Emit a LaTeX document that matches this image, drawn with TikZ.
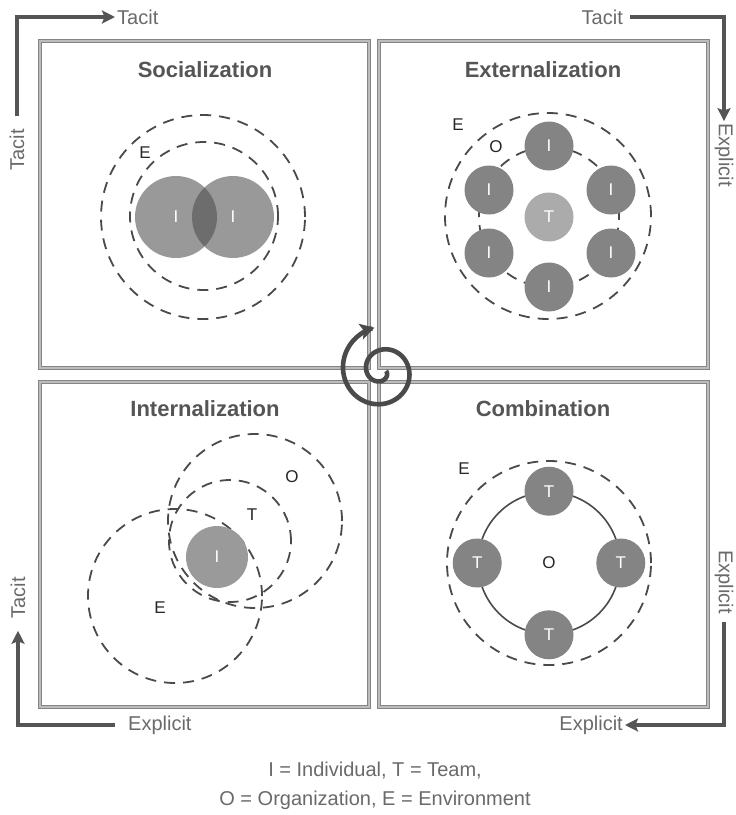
\documentclass[tikz,border=0pt]{standalone}
\usepackage{fontspec}
\setmainfont{Liberation Sans}
\usetikzlibrary{arrows.meta}

\definecolor{boxgray}{HTML}{858585}
\definecolor{inkgray}{HTML}{555555}
\definecolor{labelgray}{HTML}{6A6A6A}
\definecolor{ringgray}{HTML}{4A4A4A}
\definecolor{darkfill}{HTML}{848484}
\definecolor{midfill}{HTML}{9A9A9A}
\definecolor{lightfill}{HTML}{ABABAB}

\tikzset{
  quadrant/.style={draw=boxgray, double=boxgray!55, double distance=1.2pt, line width=1.5pt},
  title/.style={font=\fontsize{22}{26}\selectfont\bfseries, text=inkgray},
  axislabel/.style={font=\fontsize{20}{24}\selectfont, text=labelgray, inner sep=2pt},
  axisline/.style={draw=inkgray, line width=3.2pt, -{Stealth[length=13pt,width=13pt,inset=2.5pt]}},
  dashring/.style={circle, draw=ringgray, dash pattern=on 11pt off 8pt, line width=1.8pt, inner sep=0pt},
  letter/.style={font=\fontsize{17}{20}\selectfont, text=black!85},
  member/.style={circle, fill=darkfill, minimum size=49pt, inner sep=0pt, font=\fontsize{17}{20}\selectfont, text=white!85},
  overlap/.style={member, fill=black!70, fill opacity=0.57, text opacity=1, minimum size=82pt},
  spiral/.style={draw=ringgray, line width=4.6pt, -{Stealth[length=14pt,width=16pt,inset=3pt]}},
}

\begin{document}
\begin{tikzpicture}[x=1pt,y=-1pt]
\useasboundingbox[fill=white] (0,0) rectangle (736,815);

% quadrants
\draw[quadrant] (40,41) rectangle (369,368);
\draw[quadrant] (379,41) rectangle (708,368);
\draw[quadrant] (40,382) rectangle (369,707);
\draw[quadrant] (379,382) rectangle (708,707);

\node[title] (soc) at (205,70) {Socialization};
\node[title] (ext) at (543,70) {Externalization};
\node[title] (int) at (205,409) {Internalization};
\node[title] (com) at (543,409) {Combination};

% socialization
\node[dashring, minimum size=204pt] (soc-env) at (203,217) {};
\node[dashring, minimum size=148pt] (soc-env2) at (204,216) {};
\node[overlap] (soc-i1) at (176,217) {I};
\node[overlap] (soc-i2) at (233,217) {I};
\node[letter] (soc-e) at (145,153) {E};

% externalization
\node[dashring, minimum size=206pt] (ext-env) at (548,216) {};
\node[dashring, minimum size=140pt] (ext-org) at (549,217) {};
\foreach \n/\x/\y in {1/549/146, 2/611/190, 3/611/253, 4/549/287, 5/489/253, 6/489/190}
  \node[member] (ext-i\n) at (\x,\y) {I};
\node[member, fill=lightfill] (ext-t) at (549,217) {T};
\node[letter] (ext-e) at (458,125) {E};
\node[letter] (ext-o) at (496,147) {O};

% internalization
\node[dashring, minimum size=174pt] (int-env) at (175,596) {};
\node[dashring, minimum size=174pt] (int-org) at (255,521) {};
\node[dashring, minimum size=122pt] (int-team) at (230,541) {};
\node[member, fill=midfill, minimum size=62pt] (int-i) at (217,557) {I};
\node[letter] (int-o) at (292,477) {O};
\node[letter] (int-t) at (252,515) {T};
\node[letter] (int-e) at (160,608) {E};

% combination
\node[dashring, minimum size=204pt] (com-env) at (549,563) {};
\node[circle, draw=ringgray, line width=1.6pt, minimum size=142pt, inner sep=0pt] (com-ring) at (549,563) {};
\node[letter] (com-o) at (549,563) {O};
\foreach \a in {north,east,south,west}
  \node[member] (com-\a) at (com-ring.\a) {T};
\node[letter] (com-e) at (464,469) {E};

% spiral
\draw[spiral] plot[domain=0:620, samples=160, smooth, variable=\t]
  ({382+(4+\t/15.5)*cos(\t)}, {371+(4+\t/15.5)*sin(\t)});

% axes
\node[axislabel, rotate=90] (tl-v) at (17,150) {Tacit};
\node[axislabel, anchor=west] (tl-h) at (115,17) {Tacit};
\draw[axisline, shorten <=11pt] (tl-v.east) |- (tl-h.west);

\node[axislabel, anchor=east] (tr-h) at (625,17) {Tacit};
\node[axislabel, rotate=-90] (tr-v) at (724,155) {Explicit};
\draw[axisline, shorten <=5pt] (tr-h.east) -| (tr-v.west);

\node[axislabel, rotate=-90] (br-v) at (724,582) {Explicit};
\node[axislabel, anchor=east] (br-h) at (625,725) {Explicit};
\draw[axisline, shorten <=6pt] (br-v.east) |- (br-h.east);

\node[axislabel, anchor=west] (bl-h) at (126,725) {Explicit};
\node[axislabel, rotate=90] (bl-v) at (18,598) {Tacit};
\draw[axisline, shorten <=11pt, shorten >=10pt] (bl-h.west) -| (bl-v.west);

% legend
\node[axislabel, align=center, font=\fontsize{20}{29}\selectfont] (legend) at (375,786)
  {I = Individual, T = Team,\\ O = Organization, E = Environment};
\end{tikzpicture}
\end{document}
